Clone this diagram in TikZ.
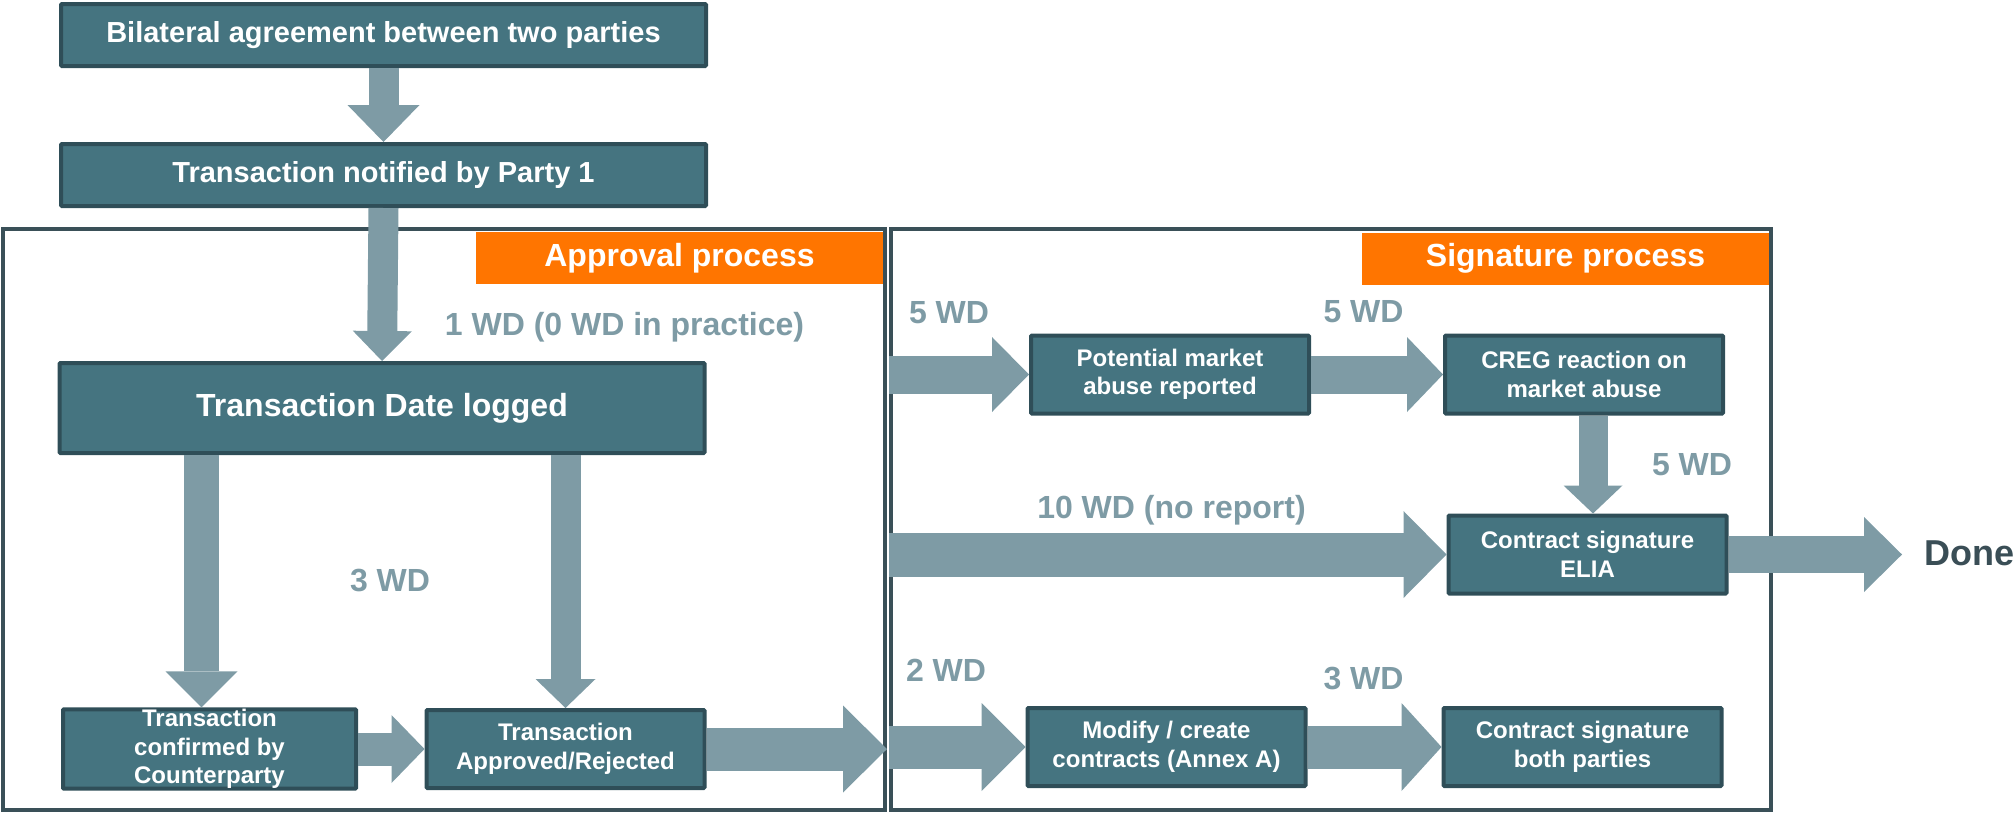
\documentclass[tikz,border=0pt]{standalone}
\usepackage{fontspec}
\setmainfont{Liberation Sans}
\usetikzlibrary{arrows.meta}
\definecolor{boxfill}{RGB}{69,116,128}
\definecolor{boxedge}{RGB}{47,78,88}
\definecolor{flowgrey}{RGB}{126,155,165}
\definecolor{tagorange}{RGB}{255,117,0}
\definecolor{frameline}{RGB}{58,80,88}
\definecolor{doneslate}{RGB}{58,78,86}
\tikzset{
  proc/.style = {draw=boxedge, fill=boxfill, line width=4pt, text=white,
    font=\bfseries\fontsize{24}{28.5}\selectfont, align=center, inner sep=0pt,
    minimum width=278pt, minimum height=78pt, rounded corners=1pt},
  wideproc/.style = {proc, minimum width=645pt, minimum height=62pt,
    font=\bfseries\fontsize{29}{34}\selectfont},
  stage/.style = {draw=frameline, line width=4pt, inner sep=0pt,
    minimum width=#1, minimum height=581pt},
  tag/.style = {fill=tagorange, text=white, font=\bfseries\fontsize{32}{38}\selectfont,
    inner sep=0pt, minimum width=407pt, minimum height=52pt},
  wd/.style = {text=flowgrey, font=\bfseries\fontsize{32}{38}\selectfont, inner sep=0pt},
  flow/.style n args = {3}{draw=flowgrey, line width=#1,
    -{Triangle[width=#2, length=#3, line width=0pt]}}
}
\begin{document}
\begin{tikzpicture}[x=1pt, y=-1pt]
   \useasboundingbox (0,0) rectangle (2015,814);
   % the two process frames
   \node[stage=882pt] (approval) at (444,519.5) {};
   \node[stage=880pt] (signature) at (1331,519.5) {};
   \node[tag] (approvaltag) at (679.5,258) {Approval process};
   \node[tag] (signaturetag) at (1565.5,258.5) {Signature process};
   % steps
   \node[wideproc] (bilateral) at (383.5,35) {Bilateral agreement between two parties};
   \node[wideproc] (notified) at (383.5,175) {Transaction notified by Party 1};
   \node[wideproc, minimum height=90pt, font=\bfseries\fontsize{32}{38}\selectfont] (logged) at (382,408) {Transaction Date logged};
   \node[proc, minimum width=293pt] (confirmed) at (209.5,749) {Transaction\\confirmed by\\Counterparty};
   \node[proc] (approved) at (565.5,749) {Transaction\\Approved/Rejected};
   \node[proc] (abuse) at (1170,374.5) {Potential market\\abuse reported};
   \node[proc] (creg) at (1584,374.5) {CREG reaction on\\market abuse};
   \node[proc] (elia) at (1587.5,554.5) {Contract signature\\ELIA};
   \node[proc] (annex) at (1166.5,747) {Modify / create\\contracts (Annex A)};
   \node[proc] (both) at (1582.5,747) {Contract signature\\both parties};
   \node[anchor=west, inner sep=0pt, text=doneslate, font=\bfseries\fontsize{36}{42}\selectfont] (done) at (1924,553) {Done};
   \coordinate (donetip) at (1902,554.5);
   % flows
   \draw[flow={30pt}{72pt}{37pt}] (bilateral.south) -- (notified.north);
   \draw[flow={30pt}{59pt}{30pt}] (notified.south) -- (logged.north);
   \draw[flow={35pt}{72pt}{36pt}] ([xshift=-8pt]confirmed.north |- logged.south) -- ([xshift=-8pt]confirmed.north);
   \draw[flow={30pt}{60pt}{29pt}] (approved.north |- logged.south) -- (approved.north);
   \draw[flow={33pt}{68pt}{33pt}] (confirmed) -- (approved);
   \draw[flow={43pt}{87pt}{44pt}] (approved.east) -- (approved.east -| approval.east);
   \draw[flow={38pt}{75pt}{37pt}] (abuse.west -| signature.west) -- (abuse.west);
   \draw[flow={38pt}{75pt}{36pt}] (abuse) -- (creg);
   \draw[flow={29pt}{59pt}{28pt}] ([xshift=9pt]creg.south) -- ([xshift=9pt]creg.south |- elia.north);
   \draw[flow={44pt}{87pt}{43pt}] (elia.west -| signature.west) -- (elia.west);
   \draw[flow={37pt}{75pt}{38pt}] (elia) -- (donetip);
   \draw[flow={43pt}{88pt}{44pt}] (annex.west -| signature.west) -- (annex.west);
   \draw[flow={43pt}{88pt}{40pt}] (annex) -- (both);
   % working days
   \node[wd] (wdlog) at (624.5,327) {1 WD (0 WD in practice)};
   \node[wd] (wdcheck) at (390,580) {3 WD};
   \node[wd] (wdreport) at (949,313) {5 WD};
   \node[wd] (wdcreg) at (1363.5,312) {5 WD};
   \node[wd] (wdsign) at (1692,465) {5 WD};
   \node[wd] (wdnoreport) at (1171.5,510) {10 WD (no report)};
   \node[wd] (wdannex) at (946,670) {2 WD};
   \node[wd] (wdboth) at (1363.5,678) {3 WD};
\end{tikzpicture}
\end{document}
